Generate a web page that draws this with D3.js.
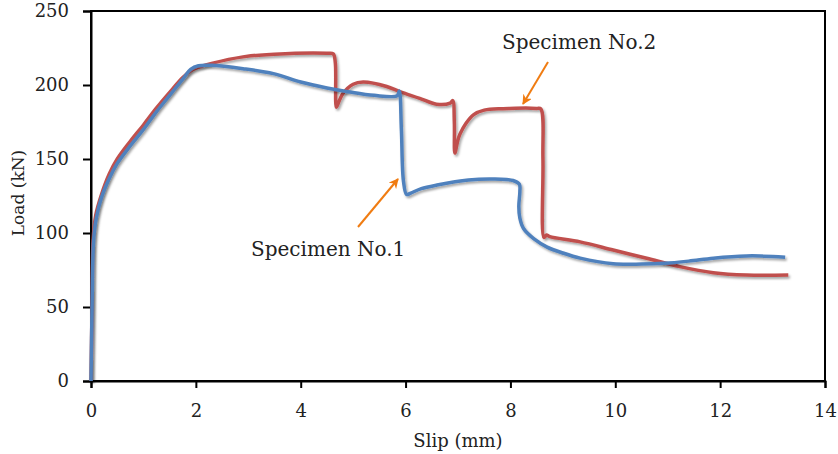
<!DOCTYPE html>
<html lang="en">
<head>
  <meta charset="UTF-8">
  <title>Load vs Slip</title>
  <script src="https://d3js.org/d3.v7.min.js"></script>
  <style>
    body { margin: 0; background: #fff; }
    svg { display: block; font-family: "DejaVu Serif", serif; }
  </style>
</head>
<body>
  <svg id="chart" width="838" height="454"></svg>
  <script>
    // Tick values
    const xTicks = [0, 2, 4, 6, 8, 10, 12, 14];
    const yTicks = [0, 50, 100, 150, 200, 250];

    // Specimen No.1 (blue): [slip mm, load kN]
    const spec1Slip = [0, 0.02, 0.05, 0.1, 0.2, 0.35, 0.5, 0.75, 1.0, 1.25, 1.5, 1.75, 1.9, 2.05, 2.3, 2.9, 3.5, 4.0, 4.5, 4.9, 5.4, 5.84,
      5.88, 5.92, 5.96, 6.02, 6.1, 6.3, 6.6, 7.2, 7.65, 8.05, 8.17, 8.18, 8.16, 8.18, 8.25, 8.45, 8.7, 9.0, 9.33, 9.96, 10.5,
      10.92, 11.4, 11.87, 12.5, 13.0, 13.24];
    const spec1Load = [0, 50, 95, 110, 124, 137, 147, 159, 170, 182, 193, 204, 210.5, 213, 213.3, 211, 207.5, 202, 198, 195.5, 193, 192.8,
      196, 170, 135, 126, 127, 130, 132.4, 135.8, 136.5, 135.5, 133, 128, 118, 110, 103, 96, 90.5, 86.5, 83, 79.2, 79,
      79.5, 81, 83, 84.5, 84.2, 83.6];

    // Specimen No.2 (red)
    const spec2Slip = [0, 0.02, 0.04, 0.09, 0.2, 0.35, 0.5, 0.75, 1.0, 1.25, 1.5, 1.75, 1.9, 2.1, 2.3, 2.9, 3.5, 4.5, 4.62, 4.66, 4.68,
      4.72, 4.8, 5.0, 5.19, 5.64, 5.89, 6.27, 6.59, 6.85, 6.9, 6.93, 6.94, 7.0, 7.04, 7.15, 7.3, 7.5, 7.86, 8.5, 8.58, 8.62,
      8.64, 8.69, 8.75, 9.33, 9.96, 10.6, 11.23, 11.87, 12.5, 13.3];
    const spec2Load = [0, 50, 95, 112, 126, 140, 150, 162, 173, 184.5, 195, 205, 209.5, 212.5, 214.6, 219, 220.8, 221.4, 221, 215, 185,
      188, 194, 200.5, 202, 199, 195.5, 191, 187, 187.8, 189.5, 175, 154, 163, 167, 174, 180, 183, 184, 184.2, 183.8, 150,
      97, 98.6, 97.5, 94, 88.5, 82.9, 77.3, 73.2, 71.6, 71.6];

    const svg = d3.select("#chart");
    const margin = {top: 11, right: 13, bottom: 73, left: 91};
    const width = +svg.attr("width") - margin.left - margin.right;
    const height = +svg.attr("height") - margin.top - margin.bottom;

    const x = d3.scaleLinear().domain([0, 14]).range([0, width]);
    const y = d3.scaleLinear().domain([0, 250]).range([height, 0]);

    // soft shadow like the original office-style lines
    const defs = svg.append("defs");
    const f = defs.append("filter").attr("id", "shadow")
      .attr("x", "-5%").attr("y", "-5%").attr("width", "110%").attr("height", "110%");
    f.append("feDropShadow").attr("dx", 1.5).attr("dy", 2).attr("stdDeviation", 1.3)
      .attr("flood-color", "#000").attr("flood-opacity", 0.35);

    defs.append("marker").attr("id", "arrowHead")
      .attr("viewBox", "0 0 10 10").attr("refX", 9).attr("refY", 5)
      .attr("markerWidth", 5).attr("markerHeight", 5).attr("orient", "auto")
      .append("path").attr("d", "M0,0 L10,5 L0,10 L3,5 Z").attr("fill", "#f07c12");

    const g = svg.append("g").attr("transform", `translate(${margin.left},${margin.top})`);

    // frame
    g.append("rect").attr("width", width).attr("height", height)
      .attr("fill", "none").attr("stroke", "#000").attr("stroke-width", 2);

    const xAxis = g.append("g").attr("transform", `translate(0,${height})`)
      .call(d3.axisBottom(x).tickValues(xTicks).tickSize(7).tickPadding(16).tickFormat(d3.format("d")));
    const yAxis = g.append("g")
      .call(d3.axisLeft(y).tickValues(yTicks).tickSize(8).tickPadding(14).tickFormat(d3.format("d")));

    [xAxis, yAxis].forEach(a => {
      a.select(".domain").attr("stroke-width", 2);
      a.selectAll(".tick line").attr("stroke-width", 2);
      a.selectAll("text").attr("font-size", 18).attr("font-family", "DejaVu Serif").attr("fill", "#222");
    });

    const line = d3.line()
      .x(d => x(d[0])).y(d => y(d[1]))
      .curve(d3.curveCatmullRom.alpha(0.5));

    const series = [
      {slip: spec2Slip, load: spec2Load, color: "#c0504d"},
      {slip: spec1Slip, load: spec1Load, color: "#4f81bd"}
    ];

    series.forEach(s => {
      const pts = s.slip.map((v, i) => [v, s.load[i]]);
      g.append("path").datum(pts)
        .attr("d", line)
        .attr("fill", "none")
        .attr("stroke", s.color)
        .attr("stroke-width", 3.5)
        .attr("stroke-linejoin", "round")
        .attr("filter", "url(#shadow)");
    });

    // annotations
    svg.append("text").attr("x", 502).attr("y", 49).attr("font-size", 20).attr("fill", "#222")
      .text("Specimen No.2");
    svg.append("text").attr("x", 251).attr("y", 256).attr("font-size", 20).attr("fill", "#222")
      .text("Specimen No.1");

    svg.append("line").attr("x1", 548).attr("y1", 62).attr("x2", 523).attr("y2", 104)
      .attr("stroke", "#f07c12").attr("stroke-width", 2).attr("marker-end", "url(#arrowHead)");
    svg.append("line").attr("x1", 358).attr("y1", 227).attr("x2", 398).attr("y2", 179)
      .attr("stroke", "#f07c12").attr("stroke-width", 2).attr("marker-end", "url(#arrowHead)");

    // axis titles
    svg.append("text").attr("x", margin.left + width / 2).attr("y", 447)
      .attr("text-anchor", "middle").attr("font-size", 18).attr("fill", "#222")
      .text("Slip (mm)");
    svg.append("text").attr("transform", `translate(24,${margin.top + height / 2 - 3}) rotate(-90)`)
      .attr("text-anchor", "middle").attr("font-size", 17).attr("fill", "#222")
      .text("Load (kN)");
  </script>
</body>
</html>
